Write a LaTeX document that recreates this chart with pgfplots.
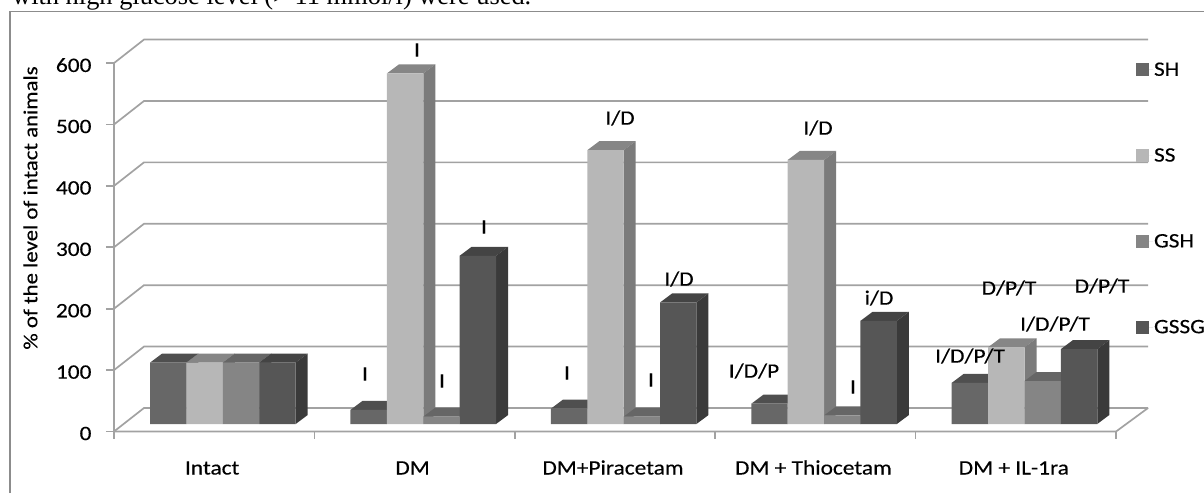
\documentclass[border=0pt]{standalone}
\usepackage{fontspec}
\setmainfont{Carlito}[FakeStretch=1.14,FakeBold=0.3]
\newfontfamily\serif{Liberation Serif}
\usepackage{pgfplots}
\usepackage{pgfplotstable}
\pgfplotsset{compat=1.18}

\definecolor{gridc}{HTML}{A2A2A2}
\definecolor{frontA}{HTML}{676767}\definecolor{topA}{HTML}{4F4F4F}\definecolor{sideA}{HTML}{484848}
\definecolor{frontB}{HTML}{B7B7B7}\definecolor{topB}{HTML}{868686}\definecolor{sideB}{HTML}{7B7B7B}
\definecolor{frontC}{HTML}{858585}\definecolor{topC}{HTML}{666666}\definecolor{sideC}{HTML}{5E5E5E}
\definecolor{frontD}{HTML}{565656}\definecolor{topD}{HTML}{444444}\definecolor{sideD}{HTML}{3A3A3A}

% % of intact level, one row per group
\pgfplotstableread{
x SH SS GSH GSSG
0 100 100 100 100
1 23 571 12 274
2 25 446 12 198
3 33 430 14 168
4 67 125 70 122
}\barvals

% top and side faces of one series; #2 left edge of the bar inside a group
\newcommand{\faces}[4]{%
  \pgfplotsinvokeforeach{0,1,2,3,4}{%
    \pgfplotstablegetelem{##1}{#1}\of\barvals
    \pgfmathsetmacro\v{\pgfplotsretval}
    \pgfmathsetmacro\vb{\v+14.66}
    \pgfmathsetmacro\xa{##1+#2}
    \pgfmathsetmacro\xb{\xa+0.1816}
    \pgfmathsetmacro\xc{\xa+0.06}
    \pgfmathsetmacro\xd{\xb+0.06}
    \addplot[forget plot,fill=#3,draw=none] coordinates {(\xa,\v) (\xb,\v) (\xd,\vb) (\xc,\vb)} -- cycle;
    \addplot[forget plot,fill=#4,draw=none] coordinates {(\xb,0) (\xd,14.66) (\xd,\vb) (\xb,\v)} -- cycle;
  }%
}
% back wall line at one level
\newcommand{\wall}[1]{%
  \addplot[gridc,line width=1.7pt] coordinates {(0,#1) (0.1497,#1+38.3) (5.1597,#1+38.3)};
}
\newcommand{\lab}[3]{\node[font=\fontsize{20.5}{20.5}\selectfont] at (#1pt,493pt-#2pt) {#3};}

\begin{document}
\begin{tikzpicture}[x=1pt,y=1pt]
\path[use as bounding box] (0,0) rectangle (1204,493);

% scrap of the page above the figure and the figure frame
\node[anchor=base west,inner sep=0pt,font=\serif\fontsize{26.4}{26.4}\selectfont] at (12,488) {with high glucose level (> 11 mmol/l) were used.};
\draw[color=gray!90,line width=1.4pt] (10,0) -- (10,481.5) -- (1204,481.5);

\begin{axis}[
  name=frame,
  at={(114pt,61.5pt)},anchor=south west,
  scale only axis,width=1034pt,height=391.5pt,
  xmin=0,xmax=5.1597,ymin=0,ymax=637.6,
  axis line style={draw=none},
  clip=false,
  tick align=outside,tick pos=left,
  ytick={0,100,200,300,400,500,600},
  y tick style={draw=gridc,line width=1.7pt},
  major tick length=8pt,
  xtick={0.49,1.49,2.49,3.49,4.49},
  xticklabels={Intact,DM,DM+Piracetam,DM + Thiocetam,DM + IL-1ra},
  minor xtick={0,1,2,3,4,5},
  minor tick length=7pt,
  major x tick style={draw=none},
  minor x tick style={draw=gridc,line width=1.7pt},
  tick label style={font=\fontsize{20.5}{20.5}\selectfont},
  /pgf/number format/assume math mode=true,
  yticklabel style={xshift=-11pt,yshift=-2pt},
  xticklabel style={yshift=-35pt,anchor=base,text height=13pt},
  ylabel={\% of the level of intact animals},
  ylabel style={font=\fontsize{20}{20}\selectfont,at={(axis description cs:-0.0706,0.571)}},
]
\wall{0}\wall{100}\wall{200}\wall{300}\wall{400}\wall{500}\wall{600}
\addplot[gridc,line width=1.7pt] coordinates {(0,0) (0,600)};
\addplot[gridc,line width=1.7pt] coordinates {(0,0) (5,0) (5.1597,38.3)};
\end{axis}

\begin{axis}[
  at={(114pt,61.5pt)},anchor=south west,
  scale only axis,width=1034pt,height=391.5pt,
  xmin=0,xmax=5.1597,ymin=-12.2,ymax=625.4,
  hide axis,
  legend cell align=left,
  legend style={draw=none,fill=none,at={(1022pt,370pt)},anchor=north west,
    inner sep=0pt,outer sep=0pt,row sep=69pt,
    font=\fontsize{20.5}{20.5}\selectfont,
    nodes={inner sep=1pt}},
  legend image code/.code={\fill[#1] (0pt,-6.5pt) rectangle (13pt,6.5pt);\path (0pt,0pt) -- (17pt,0pt);},
]
\faces{SH}{0.18}{topA}{sideA}
\addplot[ybar,bar width=0.1816,bar shift=0pt,fill=frontA,draw=none] table[x expr=\thisrow{x}+0.2708,y=SH]{\barvals};
\faces{SS}{0.3616}{topB}{sideB}
\addplot[ybar,bar width=0.1816,bar shift=0pt,fill=frontB,draw=none] table[x expr=\thisrow{x}+0.4524,y=SS]{\barvals};
\faces{GSH}{0.5432}{topC}{sideC}
\addplot[ybar,bar width=0.1816,bar shift=0pt,fill=frontC,draw=none] table[x expr=\thisrow{x}+0.634,y=GSH]{\barvals};
\faces{GSSG}{0.7248}{topD}{sideD}
\addplot[ybar,bar width=0.1816,bar shift=0pt,fill=frontD,draw=none] table[x expr=\thisrow{x}+0.8156,y=GSSG]{\barvals};
\legend{SH,SS,GSH,GSSG}
\end{axis}

\lab{417}{50}{I}
\lab{365}{374}{I}
\lab{442}{381}{I}
\lab{484}{227}{I}
\lab{567}{373}{I}
\lab{620}{118}{I/D}
\lab{651}{380}{I}
\lab{679}{279}{I/D}
\lab{754}{371}{I/D/P}
\lab{818}{128}{I/D}
\lab{853}{387}{I}
\lab{879}{298}{i/D}
\lab{970}{356}{I/D/P/T}
\lab{1009}{288}{D/P/T}
\lab{1055}{324}{I/D/P/T}
\lab{1102}{286}{D/P/T}
\end{tikzpicture}
\end{document}
